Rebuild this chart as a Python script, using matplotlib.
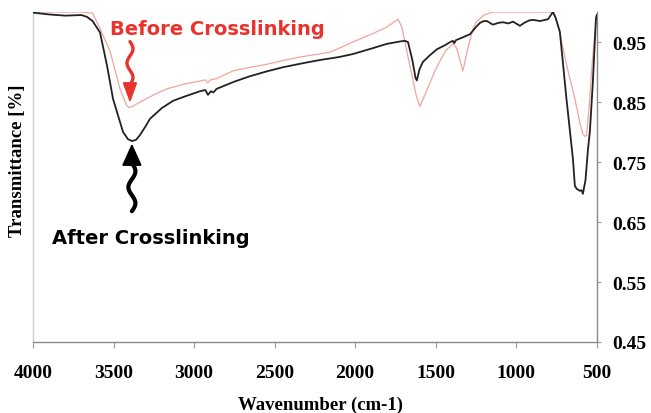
import matplotlib
matplotlib.use("Agg")
import matplotlib.pyplot as plt
import matplotlib.transforms as mtransforms
import numpy as np

# after crosslinking (black)
wn_after = [4000, 3900, 3800, 3700, 3665, 3630, 3584, 3540, 3503, 3441, 3410, 3386, 3360,
            3336, 3300, 3274, 3200, 3131, 3050, 2963, 2930, 2914, 2895, 2880, 2860, 2750,
            2653, 2550, 2448, 2300, 2219, 2100, 2014, 1900, 1803, 1720, 1691, 1672, 1645,
            1625, 1617, 1600, 1579, 1540, 1492, 1440, 1410, 1393, 1385, 1375, 1330, 1287,
            1250, 1225, 1200, 1182, 1145, 1110, 1082, 1050, 1020, 977, 950, 920, 896, 853,
            803, 785, 772, 755, 729, 690, 648, 636, 623, 605, 595, 586, 570, 555, 543, 525,
            505, 500]
t_after = [0.999, 0.996, 0.994, 0.995, 0.992, 0.985, 0.966, 0.91, 0.855, 0.80, 0.788, 0.785,
           0.787, 0.795, 0.81, 0.822, 0.840, 0.852, 0.860, 0.868, 0.870, 0.862, 0.868, 0.866,
           0.872, 0.884, 0.893, 0.901, 0.908, 0.916, 0.920, 0.925, 0.930, 0.939, 0.947, 0.951,
           0.952, 0.950, 0.92, 0.89, 0.886, 0.905, 0.917, 0.927, 0.938, 0.945, 0.950, 0.952,
           0.948, 0.953, 0.958, 0.963, 0.975, 0.982, 0.985, 0.985, 0.979, 0.982, 0.983, 0.981,
           0.984, 0.977, 0.982, 0.986, 0.987, 0.985, 0.988, 0.995, 1.0, 0.99, 0.967, 0.86,
           0.755, 0.71, 0.705, 0.702, 0.703, 0.697, 0.72, 0.77, 0.80, 0.88, 0.99, 0.995]

# before crosslinking (light red)
wn_before = [4000, 3700, 3630, 3580, 3522, 3460, 3420, 3405, 3380, 3336, 3250, 3168, 3060,
             2963, 2930, 2915, 2900, 2860, 2758, 2650, 2548, 2450, 2343, 2157, 2014, 1900,
             1803, 1750, 1734, 1710, 1660, 1620, 1598, 1570, 1500, 1440, 1393, 1370, 1345,
             1331, 1300, 1265, 1244, 1200, 1145, 800, 770, 760, 730, 686, 640, 600, 586, 575,
             563, 545, 530, 510, 500]
t_before = [1.0, 1.0, 0.998, 0.97, 0.935, 0.872, 0.845, 0.841, 0.843, 0.85, 0.862, 0.872,
            0.88, 0.885, 0.887, 0.882, 0.887, 0.889, 0.902, 0.908, 0.913, 0.919, 0.925, 0.933,
            0.95, 0.963, 0.975, 0.985, 0.988, 0.975, 0.91, 0.86, 0.843, 0.86, 0.905, 0.935,
            0.947, 0.94, 0.915, 0.902, 0.94, 0.975, 0.985, 0.995, 1.0, 1.0, 1.0, 0.995, 0.965,
            0.91, 0.86, 0.81, 0.797, 0.793, 0.794, 0.85, 0.91, 0.97, 0.99]

x_ticks = [4000, 3500, 3000, 2500, 2000, 1500, 1000, 500]
y_ticks = [0.45, 0.55, 0.65, 0.75, 0.85, 0.95]

RED = "#e8322b"
serif = ["Liberation Serif", "DejaVu Serif"]

fig = plt.figure(figsize=(6.51, 4.14), dpi=100, facecolor="white")
ax = fig.add_axes([0.0507, 0.1715, 0.866, 0.797])

ax.plot(wn_before, t_before, color="#f3a49a", lw=0.9, zorder=2)
ax.plot(wn_after, t_after, color="#222222", lw=1.3, zorder=3)

ax.set_xlim(4000, 500)
ax.set_ylim(0.45, 1.0)
ax.set_xticks(x_ticks)
ax.set_xticklabels([str(v) for v in x_ticks], fontfamily=serif, fontweight="bold", fontsize=14)
ax.yaxis.tick_right()
ax.set_yticks(y_ticks)
ax.set_yticklabels(["%.2f" % v for v in y_ticks], fontfamily=serif, fontweight="bold",
                   fontsize=14)
ax.tick_params(axis="x", length=4, width=0.8, color="#999999", pad=12)
ax.tick_params(axis="y", length=3, width=0.8, color="#999999", pad=8)

ax.spines["top"].set_visible(False)
ax.spines["left"].set_color("#d0d0d0")
ax.spines["bottom"].set_color("#8a8a8a")
ax.spines["right"].set_color("#8a8a8a")
for s in ("left", "bottom", "right"):
    ax.spines[s].set_linewidth(1.0)

fig.text(0.0276, 0.611, "Transmittance [%]", rotation=90, ha="center", va="center",
         fontfamily=serif, fontweight="bold", fontsize=13.5)
fig.text(0.493, 0.022, "Wavenumber (cm-1)", ha="center", va="center",
         fontfamily=serif, fontweight="bold", fontsize=13.5)


def wavy_arrow(x0, y0, direction, shaft_len, head_len, head_w, amp, lw, color):
    # path in inches relative to the tip (x0, y0) in data coords
    tr = fig.dpi_scale_trans + mtransforms.ScaledTranslation(x0, y0, ax.transData)
    s = np.linspace(0, 1, 80)
    yy = direction * (head_len * 0.9 + s * shaft_len)
    xx = amp * np.sin(s * 3.0 * np.pi)
    ax.plot(xx, yy, color=color, lw=lw, solid_capstyle="round", transform=tr,
            clip_on=False, zorder=5)
    head = plt.Polygon([[0, 0], [-head_w / 2, direction * head_len],
                        [head_w / 2, direction * head_len]], closed=True,
                       color=color, transform=tr, clip_on=False, zorder=5)
    ax.add_patch(head)


wavy_arrow(3398, 0.852, 1, 0.43, 0.18, 0.13, 0.03, 2.4, RED)
wavy_arrow(3386, 0.778, -1, 0.48, 0.20, 0.18, 0.035, 3.0, "black")

ax.text(3522, 0.972, "Before Crosslinking", color=RED, fontsize=14, fontweight="bold",
        fontfamily="DejaVu Sans", ha="left", va="center", zorder=6)
ax.text(3882, 0.625, "After Crosslinking", color="black", fontsize=14, fontweight="bold",
        fontfamily="DejaVu Sans", ha="left", va="center", zorder=6)

fig.savefig("out.png", dpi=100, facecolor="white")
